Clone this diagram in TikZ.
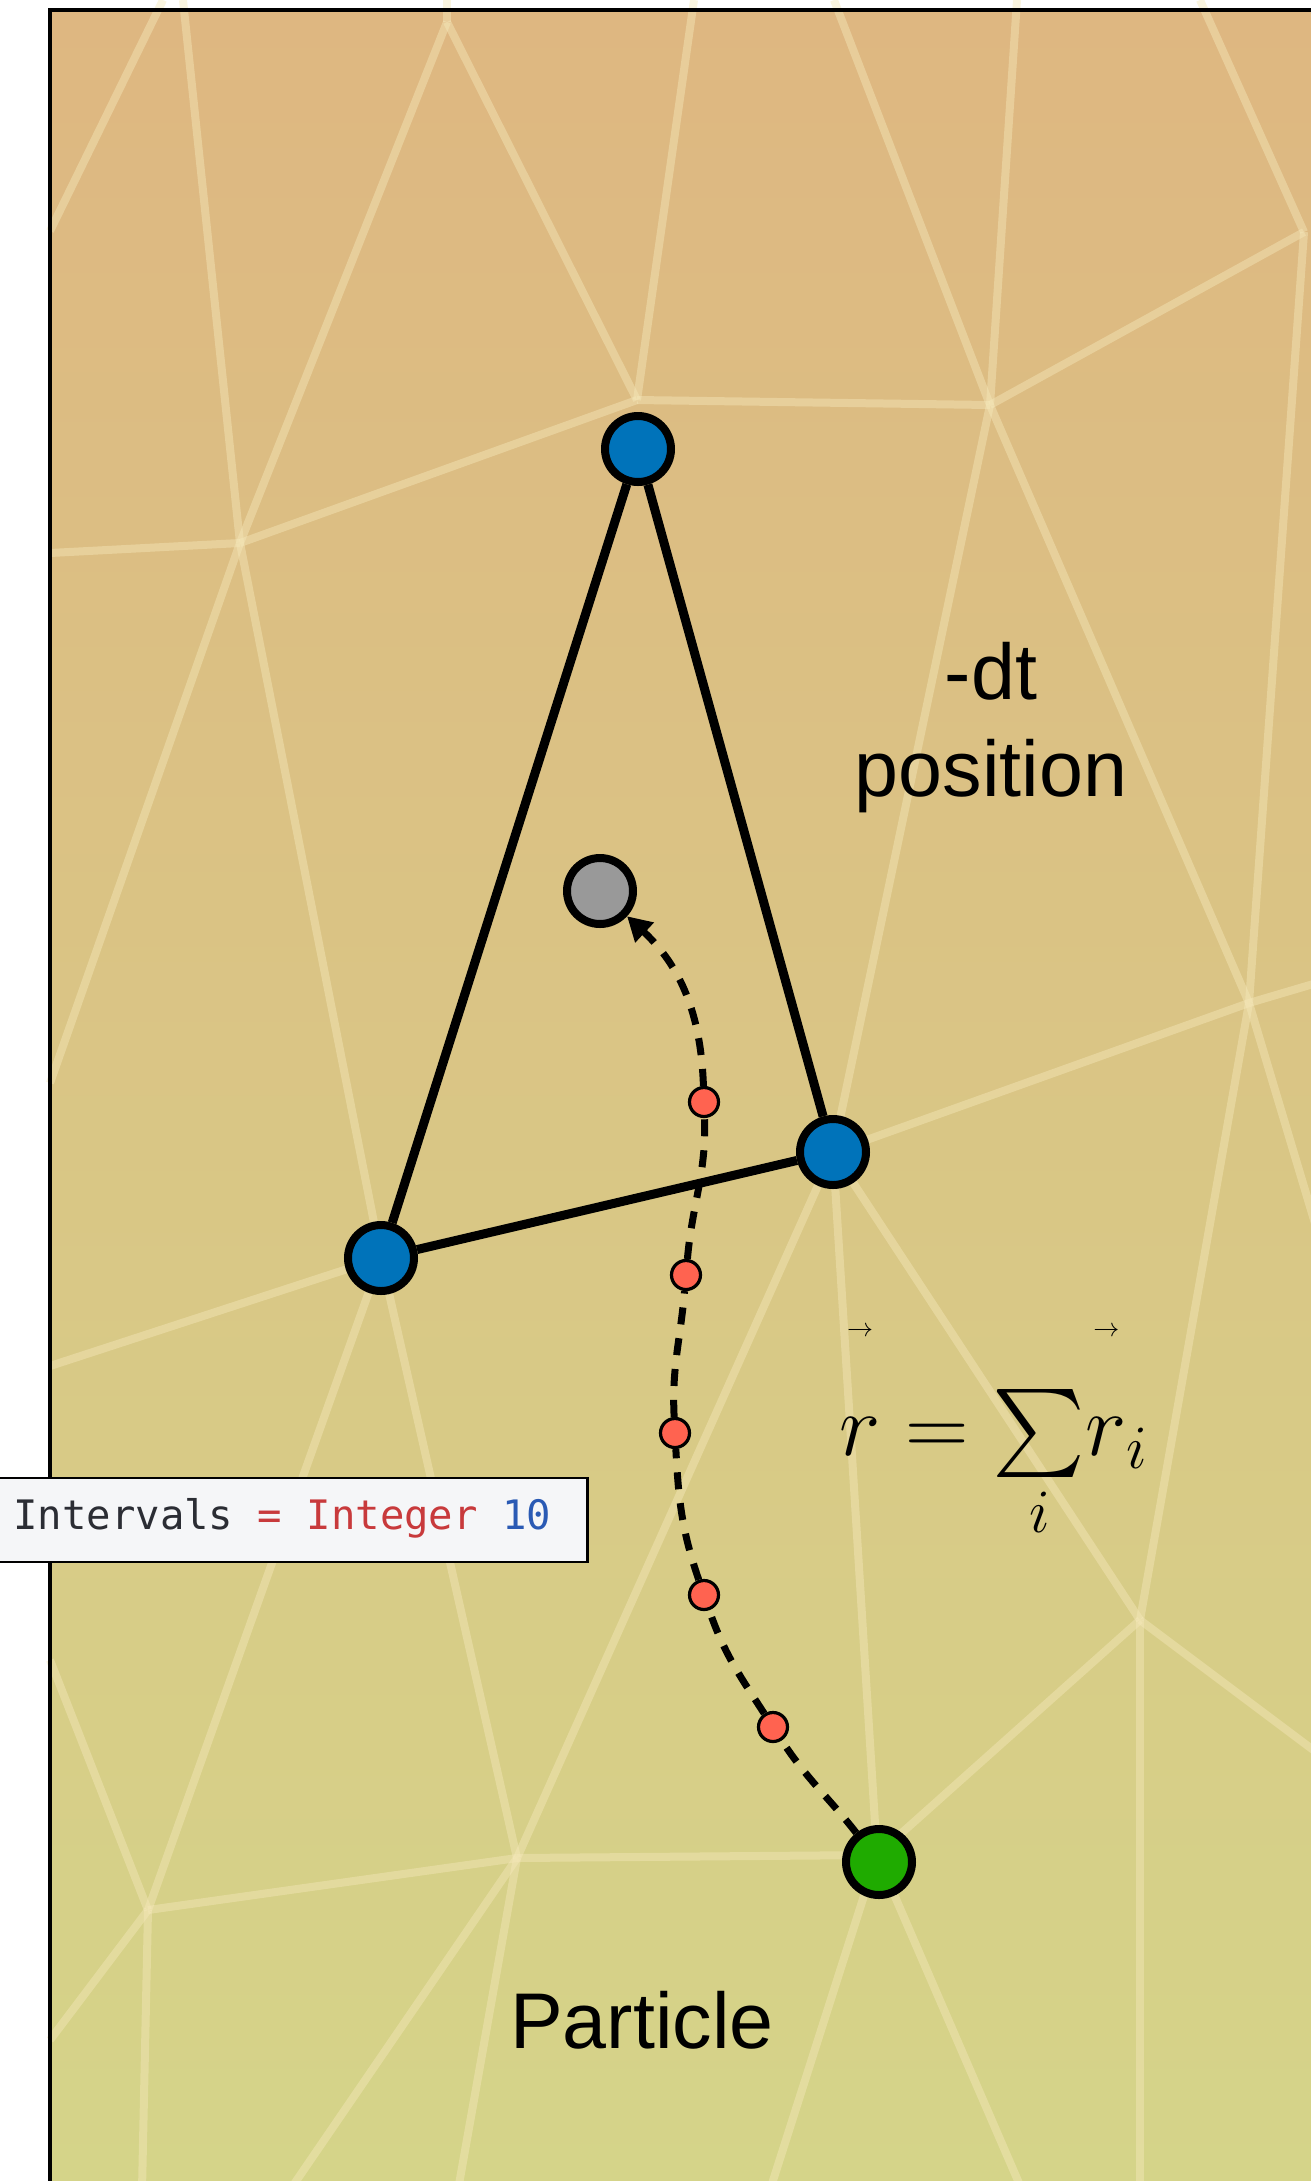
\RequirePackage{fix-cm}
\documentclass[tikz,border=0pt]{standalone}
\usepackage{amsmath}
\DeclareFontShape{OMX}{cmex}{m}{n}{<->cmex10}{}
\usepackage{fontspec}
\newfontfamily\labelfont{Liberation Sans}
\newfontfamily\codefont{DejaVu Sans Mono}
\usetikzlibrary{arrows.meta}
\definecolor{bgtop}{RGB}{222,183,129}
\definecolor{bgmid}{RGB}{217,194,131}
\definecolor{bgbot}{RGB}{213,212,137}
\definecolor{meshline}{RGB}{245,232,186}
\definecolor{vertblue}{RGB}{0,115,186}
\definecolor{partgreen}{RGB}{31,171,0}
\definecolor{stepred}{RGB}{255,99,80}
\definecolor{codebg}{RGB}{245,246,248}
\definecolor{codegray}{RGB}{43,45,52}
\definecolor{codered}{RGB}{200,58,60}
\definecolor{codeblue}{RGB}{42,90,180}
% small arrow set high above a letter
\newcommand{\hivec}[1]{\overset{\mbox{\fontsize{13}{13}\selectfont$\rightarrow$}}{\rule{0pt}{1.15em}#1}}
\tikzset{meshedge/.style={draw=meshline, line width=4pt, draw opacity=0.45},
  vertex/.style={circle, draw, line width=4pt, minimum size=33pt, inner sep=0pt, fill=vertblue},
  substep/.style={circle, draw, line width=1.6pt, minimum size=14.5pt, inner sep=0pt, fill=stepred},
  edge/.style={line width=4.5pt},
  trace/.style={line width=3.5pt, dash pattern=on 8.5pt off 7pt, -{Triangle[length=12pt, width=13pt]}},
  lbl/.style={font=\labelfont\fontsize{39.5}{48.5}\selectfont, inner sep=0pt}}

\begin{document}
\begin{tikzpicture}[x=0.5pt, y=-0.5pt]
  \useasboundingbox (0,0) rectangle (1311,2181);
  \clip (0,0) rectangle (1311,2181);
  \shade[top color=bgtop, middle color=bgmid, bottom color=bgbot] (50,10) rectangle (1311,2181);
  % background mesh, edge by edge
  \foreach \xa/\ya/\xb/\yb in {50/231/163/0, 183/0/240/543, 447/22/240/543, 447/22/637/400,
      694/0/637/400, 834/0/990/405, 1017/0/990/405, 1200/0/1304/232, 447/22/447/0,
      240/543/50/553, 240/543/637/400, 637/400/990/405, 990/405/1304/232,
      1304/232/1249/1003, 990/405/1249/1003, 990/405/833/1152, 240/543/381/1258,
      240/543/50/1083, 833/1152/1249/1003, 1249/1003/1320/982, 1249/1003/1140/1620,
      1249/1003/1320/1240, 833/1152/877/1855, 833/1152/517/1858, 833/1152/1140/1620,
      381/1258/50/1366, 381/1258/148/1910, 381/1258/517/1858, 50/1660/148/1910,
      517/1858/148/1910, 517/1858/877/1855, 517/1858/290/2190, 517/1858/458/2190,
      148/1910/142/2190, 148/1910/50/2040, 877/1855/770/2190, 877/1855/1022/2190,
      877/1855/1140/1620, 1140/1620/1140/2190, 1140/1620/1320/1755}
    \draw[meshedge] (\xa,\ya) -- (\xb,\yb);
  \draw[line width=2.2pt] (50,2200) -- (50,10) -- (1330,10);

  \node[vertex] (vtop) at (638,449) {};
  \node[vertex] (vright) at (833,1152) {};
  \node[vertex] (vleft) at (381,1258) {};
  \node[vertex, fill=black!40] (prev) at (600,891) {};
  \node[vertex, fill=partgreen] (part) at (879,1862) {};
  \foreach \n/\x/\y in {sub1/704/1102, sub2/686/1275, sub3/675/1433, sub4/704/1595, sub5/773/1727}
    \node[substep] (\n) at (\x,\y) {};
  \foreach \a/\b in {vtop/vleft, vtop/vright, vleft/vright}
    \draw[edge] (\a) -- (\b);
  % sub-step path back to the -dt position
  \draw[trace] (part) to[out=128,in=-57] (sub5) to[out=123,in=-71] (sub4)
    to[out=109,in=-87] (sub3) to[out=93,in=-95] (sub2) to[out=85,in=-88] (sub1)
    to[out=92,in=-43] (prev);

  \node[lbl, align=center] (dtlbl) at (991,728) {-dt\\position};
  \node[lbl, anchor=base] (partlbl) at (642,2048) {Particle};
  \node[anchor=base west, inner sep=0pt, font=\fontsize{44}{44}\selectfont] (sumlbl) at (839,1455)
    {${\hivec{r}} = \sum\limits_{i}\!{\hivec{r}}_{i}$};

  \node[draw, fill=codebg, line width=1.3pt, anchor=west, minimum width=298pt, minimum height=42pt,
    inner sep=0pt] (codebox) at (-10,1520) {};
  \node[anchor=base west, inner sep=0pt, font=\codefont\fontsize{20.3}{24}\selectfont] (codetxt) at (13,1529)
    {\color{codegray}Intervals \color{codered}= Integer \color{codeblue}10};
\end{tikzpicture}
\end{document}
